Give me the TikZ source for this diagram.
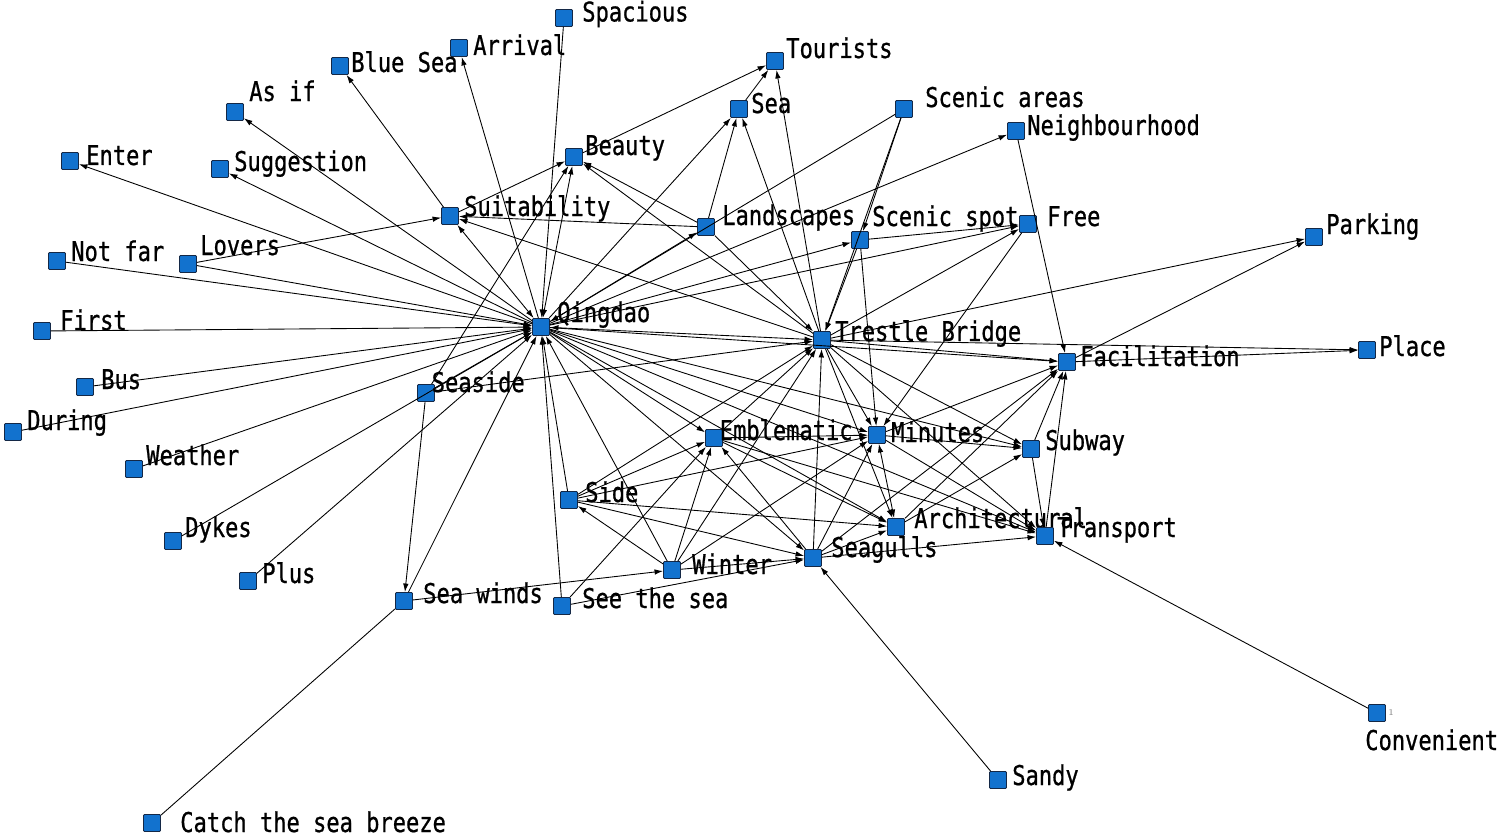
\documentclass[tikz,border=0pt]{standalone}
\usepackage{fontspec}
\newfontfamily\lblfont[FakeStretch=0.81,FakeBold=0.8]{DejaVu Sans Mono}
\usetikzlibrary{arrows.meta}
\definecolor{nodeblue}{RGB}{18,114,206}
\definecolor{nodeedge}{RGB}{20,40,70}
\newcommand\mynode[6]{\node[sq,label={[lbl,xshift=#5,yshift=#6]east:#4}] (#1) at (#2,#3) {};}
\begin{document}
\begin{tikzpicture}[x=0.02cm,y=-0.02cm,
 sq/.style={draw=nodeedge,fill=nodeblue,line width=0.5pt,minimum size=0.34cm,inner sep=0pt,rounded corners=0.6pt},
 lbl/.style={font=\lblfont\fontsize{15.5pt}{16pt}\selectfont,inner sep=0pt,anchor=base west,xshift=0.1cm,yshift=-0.04cm},
 link/.style={draw,line width=0.5pt,-{Latex[length=0.17cm,width=0.11cm]}},
 dlink/.style={draw,line width=0.5pt,{Latex[length=0.17cm,width=0.11cm]}-{Latex[length=0.17cm,width=0.11cm]}},
 plain/.style={draw,line width=0.5pt}]
\useasboundingbox (0,0) rectangle (1500,838);
\mynode{spacious}{564}{18}{Spacious}{0.08cm}{-0.03cm}
\mynode{arrival}{459}{48}{Arrival}{0cm}{-0.1cm}
\mynode{bluesea}{340}{66}{Blue Sea}{-0.06cm}{-0.08cm}
\mynode{asif}{235}{112}{As if}{0cm}{0.26cm}
\mynode{enter}{70}{161}{Enter}{0.04cm}{-0.04cm}
\mynode{suggestion}{220}{169}{Suggestion}{0cm}{0cm}
\mynode{suitability}{450}{216}{Suitability}{0cm}{0.04cm}
\mynode{notfar}{57}{261}{Not far}{0cm}{0.04cm}
\mynode{lovers}{188}{264}{Lovers}{-0.04cm}{0.22cm}
\mynode{first}{42}{331}{First}{0.08cm}{0.06cm}
\mynode{qingdao}{541}{327}{Qingdao}{0.04cm}{0.14cm}
\mynode{bus}{85}{387}{Bus}{0.04cm}{0cm}
\mynode{during}{13}{432}{During}{0cm}{0.08cm}
\mynode{seaside}{426}{393}{Seaside}{-0.17cm}{0.06cm}
\mynode{weather}{134}{469}{Weather}{-0.04cm}{0.12cm}
\mynode{dykes}{173}{541}{Dykes}{-0.04cm}{0.12cm}
\mynode{plus}{248}{581}{Plus}{0cm}{0cm}
\mynode{seawinds}{404}{601}{Sea winds}{0.1cm}{0cm}
\mynode{seethesea}{562}{606}{See the sea}{0.12cm}{0cm}
\mynode{catch}{152}{823}{Catch the sea breeze}{0.28cm}{-0.14cm}
\mynode{side}{569}{500}{Side}{0.04cm}{0cm}
\mynode{winter}{672}{570}{Winter}{0.12cm}{-0.04cm}
\mynode{emblematic}{714}{438}{Emblematic}{-0.17cm}{0cm}
\mynode{minutes}{877}{435}{Minutes}{0cm}{-0.1cm}
\mynode{seagulls}{813}{558}{Seagulls}{0.08cm}{0.06cm}
\mynode{architectural}{896}{527}{Architectural}{0.08cm}{0.02cm}
\mynode{transport}{1045}{536}{Transport}{-0.04cm}{0.02cm}
\mynode{subway}{1031}{449}{Subway}{0cm}{0.02cm}
\mynode{sandy}{998}{780}{Sandy}{0cm}{-0.06cm}
\node[sq,label={[lbl,xshift=-0.52cm,yshift=-0.7cm]east:Convenient},label={[font=\tiny,text=gray,inner sep=1pt]east:1}] (convenient) at (1377,713) {};
\mynode{facilitation}{1067}{362}{Facilitation}{-0.02cm}{-0.04cm}
\mynode{place}{1367}{350}{Place}{-0.04cm}{-0.08cm}
\mynode{parking}{1314}{237}{Parking}{-0.04cm}{0.1cm}
\mynode{free}{1028}{224}{Free}{0.1cm}{0cm}
\mynode{trestle}{822}{340}{Trestle Bridge}{-0.02cm}{0.02cm}
\mynode{scenicspot}{860}{240}{Scenic spot}{-0.04cm}{0.32cm}
\mynode{landscapes}{706}{227}{Landscapes}{0.04cm}{0.08cm}
\mynode{scenicareas}{904}{109}{Scenic areas}{0.14cm}{0.08cm}
\mynode{neighbourhood}{1016}{131}{Neighbourhood}{-0.06cm}{-0.04cm}
\mynode{beauty}{574}{157}{Beauty}{-0.06cm}{0.08cm}
\mynode{sea}{739}{109}{Sea}{-0.04cm}{-0.04cm}
\mynode{tourists}{775}{61}{Tourists}{-0.06cm}{0.1cm}
% directed links
\foreach \a/\b in {qingdao/enter,qingdao/suggestion,qingdao/asif,qingdao/arrival,spacious/qingdao,
 suitability/bluesea,lovers/suitability,lovers/qingdao,notfar/qingdao,first/qingdao,bus/qingdao,
 during/qingdao,weather/qingdao,dykes/qingdao,plus/qingdao,seaside/qingdao,seawinds/qingdao,
 seethesea/qingdao,side/qingdao,qingdao/sea,qingdao/landscapes,qingdao/scenicspot,qingdao/free,
 qingdao/neighbourhood,qingdao/facilitation,qingdao/emblematic,qingdao/minutes,qingdao/subway,
 qingdao/architectural,qingdao/seagulls,qingdao/transport,winter/qingdao,scenicareas/qingdao,
 seaside/beauty,seaside/trestle,seaside/seawinds,seawinds/winter,seethesea/seagulls,seethesea/emblematic,
 suitability/beauty,beauty/tourists,landscapes/beauty,trestle/beauty,landscapes/sea,landscapes/suitability,
 landscapes/trestle,sea/tourists,trestle/sea,trestle/tourists,scenicareas/scenicspot,scenicareas/trestle,
 scenicspot/trestle,scenicspot/minutes,scenicspot/free,neighbourhood/facilitation,trestle/free,
 trestle/parking,trestle/place,trestle/facilitation,trestle/minutes,trestle/subway,trestle/transport,
 trestle/architectural,trestle/suitability,facilitation/parking,facilitation/place,free/minutes,
 emblematic/trestle,emblematic/minutes,emblematic/transport,emblematic/architectural,
 side/emblematic,side/minutes,side/architectural,side/seagulls,side/trestle,winter/side,
 winter/seagulls,winter/emblematic,winter/minutes,winter/trestle,seagulls/trestle,seagulls/minutes,
 seagulls/emblematic,seagulls/architectural,seagulls/transport,seagulls/facilitation,sandy/seagulls,
 architectural/facilitation,architectural/subway,subway/transport,subway/facilitation,
 transport/facilitation,minutes/subway,minutes/transport,minutes/facilitation,convenient/transport}
 \draw[link] (\a) -- (\b);
% two-way links
\foreach \a/\b in {qingdao/suitability,qingdao/beauty,qingdao/trestle,minutes/architectural}
 \draw[dlink] (\a) -- (\b);
% undirected
\draw[plain] (catch) -- (seawinds);
\end{tikzpicture}
\end{document}
